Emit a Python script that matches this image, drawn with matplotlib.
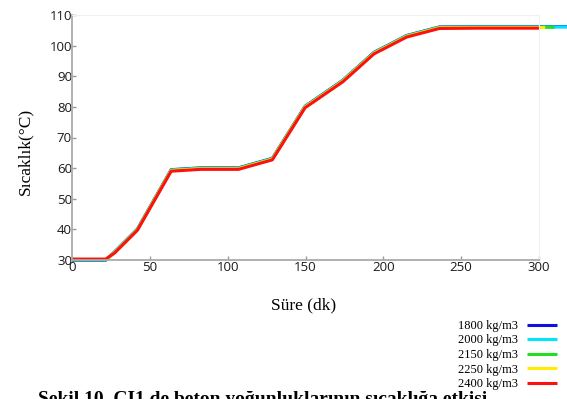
import matplotlib
matplotlib.use("Agg")
import matplotlib.pyplot as plt

# Data
time_main = [0, 21.7, 27.4, 42, 63.7, 82.8, 107, 128.7, 149.7, 174, 194, 215, 236, 260]
temp_1800 = [29.9, 29.9, 32.7, 40.1, 59.5, 60.1, 60.1, 63.2, 80.2, 88.7, 97.8, 103.3, 106.1, 106.2]
temp_2000 = [30.0, 30.0, 32.6, 40.0, 59.4, 60.0, 60.0, 63.1, 80.1, 88.6, 97.7, 103.2, 106.0, 106.1]
temp_2150 = [30.1, 30.1, 32.5, 39.9, 59.3, 59.9, 59.9, 63.0, 80.0, 88.5, 97.6, 103.1, 105.9, 106.0]
temp_2250 = [30.2, 30.2, 32.4, 39.8, 59.2, 59.8, 59.8, 62.9, 79.9, 88.4, 97.5, 103.0, 105.8, 105.9]
temp_2400 = [30.3, 30.3, 32.3, 39.7, 59.0, 59.6, 59.6, 62.7, 79.7, 88.2, 97.3, 102.8, 105.6, 105.7]
end_times = [318, 318, 310, 304, 300]
labels = ["1800 kg/m3", "2000 kg/m3", "2150 kg/m3", "2250 kg/m3", "2400 kg/m3"]
colors = ["#1010e0", "#00e5ff", "#22dd22", "#ffee00", "#ff1010"]
series = [temp_1800, temp_2000, temp_2150, temp_2250, temp_2400]
xticks = [0, 50, 100, 150, 200, 250, 300]
yticks = [30, 40, 50, 60, 70, 80, 90, 100, 110]

fig = plt.figure(figsize=(5.67, 3.99), dpi=100)
ax = fig.add_axes([72/567, 139/399, 467/567, 245/399])

handles = []
for ys, te, c, lab in zip(series, end_times, colors, labels):
    xs = time_main + [te]
    yy = ys + [ys[-1]]
    h, = ax.plot(xs, yy, color=c, lw=2.2, clip_on=False, label=lab,
                 solid_capstyle='butt')
    handles.append(h)

ax.set_xlim(0, 300)
ax.set_ylim(30, 110)
ax.set_xticks(xticks)
ax.set_yticks(yticks)
tick_font = {'family': 'Open Sans', 'size': 9.5}
ax.set_xticklabels([str(t) for t in xticks], fontdict=tick_font, color='#1a1a1a')
ax.set_yticklabels([str(t) for t in yticks], fontdict=tick_font, color='#1a1a1a')
ax.tick_params(direction='in', length=3, width=1, color='#999999', pad=1)
ax.tick_params(axis='y', pad=0)
for s in ['left', 'bottom']:
    ax.spines[s].set_color('#aaaaaa')
    ax.spines[s].set_linewidth(1.3)
for s in ['top', 'right']:
    ax.spines[s].set_color('#f0f0f0')
    ax.spines[s].set_linewidth(0.8)

fig.text(25/567, 0.62, "Sıcaklık(°C)", rotation=90, ha='center', va='center',
         family='Liberation Serif', fontsize=12.5)
fig.text(304/567, 94/399, "Süre (dk)", ha='center', va='center',
         family='Liberation Serif', fontsize=12.5)

fig.legend(handles=handles, labels=labels, loc='upper right',
           bbox_to_anchor=(557/567, 79/399), frameon=False,
           markerfirst=False, prop={'family': 'Liberation Serif', 'size': 9},
           handlelength=2.4, handletextpad=0.7, labelspacing=0.2, borderpad=0,
           borderaxespad=0)

fig.text(38/567, 8/399, "Şekil 10. CI1 de beton yoğunluklarının sıcaklığa etkisi",
         ha='left', va='top', family='Liberation Serif', fontsize=14, fontweight='bold')

fig.savefig("out.png", dpi=100)
